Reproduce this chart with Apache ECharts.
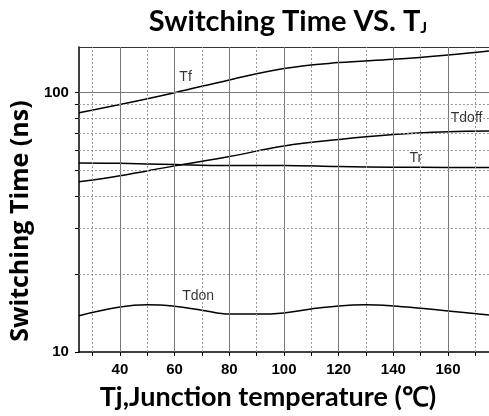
<!DOCTYPE html>
<html>
<head>
<meta charset="utf-8">
<script src="https://cdn.jsdelivr.net/npm/echarts@6/dist/echarts.min.js"></script>
<style>
  html, body { margin: 0; padding: 0; background: #fff; }
  #chart { width: 489px; height: 416px; }
</style>
</head>
<body>
<div id="chart"></div>
<script>
// Temperatures (degC)
const temps = [25, 40, 60, 80, 100, 120, 140, 160, 175];
const tempsDon = [25, 40, 50, 60, 70, 80, 90, 100, 110, 120, 130, 140, 150, 160, 175];

// Switching times (ns)
const tf = [83.6, 90, 100, 112, 124, 130.6, 134.5, 139.8, 144.9];
const tdoff = [45.3, 47.8, 52.2, 56.7, 62.3, 66, 69, 70.7, 71.1];
const tr = [53.6, 53.4, 52.8, 52.4, 52.4, 51.9, 51.6, 51.5, 51.5];
const tdon = [13.8, 14.9, 15.2, 15.0, 14.5, 14.0, 14.0, 14.15, 14.65, 15.05, 15.2, 15.05, 14.74, 14.4, 13.9];

// Curve names and where their labels sit (data coords)
const curveLabels = [
  ['Tf', 64, 115],
  ['Tdoff', 166.8, 79.5],
  ['Tr', 148.2, 55.9],
  ['Tdon', 68.6, 16.4]
];

// Axis ticks / grid
const xLabelTicks = [40, 60, 80, 100, 120, 140, 160];
const xMinorTicks = [30, 50, 70, 90, 110, 130, 150, 170];
const yLabelTicks = [10, 100];
const yMinor = [20, 30, 40, 50, 60, 70, 80, 90];

const zip = (xs, ys) => xs.map((x, i) => [x, ys[i]]);

const solidGrid = { color: '#777', width: 1, type: 'solid' };
const dashGrid = { color: '#999', width: 1, type: [2, 2] };

const gridLines = []
  .concat(xLabelTicks.map(v => ({ xAxis: v, lineStyle: solidGrid })))
  .concat(xMinorTicks.map(v => ({ xAxis: v, lineStyle: dashGrid })))
  .concat([{ yAxis: 100, lineStyle: solidGrid }])
  .concat(yMinor.map(v => ({ yAxis: v, lineStyle: dashGrid })));

function curve(name, xs, ys) {
  return {
    name: name,
    type: 'line',
    data: zip(xs, ys),
    smooth: 0.4,
    showSymbol: false,
    z: 3,
    lineStyle: { color: '#000', width: 1.5 },
    itemStyle: { color: '#000' }
  };
}

const labelFont = 'Liberation Sans, Arial, sans-serif';
const boldFont = 'Lato, Open Sans, sans-serif';

const option = {
  animation: false,
  backgroundColor: '#fff',
  title: {
    text: 'Switching Time VS. T{sub|J}',
    left: 283,
    top: 2,
    textAlign: 'center',
    textStyle: {
      fontFamily: boldFont,
      fontWeight: 'bold',
      fontSize: 29,
      color: '#000',
      rich: {
        sub: { fontFamily: boldFont, fontWeight: 'bold', fontSize: 16, color: '#000', verticalAlign: 'bottom' }
      }
    }
  },
  grid: { left: 73, top: 47, width: 420, height: 307 },
  xAxis: [{
    type: 'value',
    min: 25,
    max: 175,
    name: 'Tj,Junction temperature (\u2103)',
    nameLocation: 'middle',
    nameGap: 32,
    nameTextStyle: { fontFamily: boldFont, fontWeight: 'bold', fontSize: 27, color: '#000', padding: [0, 32, 0, 0] },
    axisLine: { lineStyle: { color: '#000', width: 1.5 } },
    axisTick: { show: true, customValues: xLabelTicks.concat(xMinorTicks), length: 4, lineStyle: { color: '#000' } },
    axisLabel: { customValues: xLabelTicks, fontFamily: labelFont, fontWeight: 'bold', fontSize: 15, color: '#000', margin: 10 },
    splitLine: { show: false }
  }, {
    type: 'value',
    position: 'top',
    min: 25,
    max: 175,
    axisLine: { show: true, lineStyle: { color: '#333', width: 1 } },
    axisTick: { show: false },
    axisLabel: { show: false },
    splitLine: { show: false }
  }],
  yAxis: {
    type: 'log',
    logBase: 10,
    min: 10,
    max: 150,
    name: 'Switching Time (ns)',
    nameLocation: 'middle',
    nameGap: 44,
    nameTextStyle: { fontFamily: 'Open Sans, sans-serif', fontWeight: 'bold', fontSize: 25, color: '#000', padding: [0, 43, 0, 0] },
    axisLine: { show: true, lineStyle: { color: '#000', width: 1.5 } },
    axisTick: { show: true, customValues: yLabelTicks.concat(yMinor), length: 4, lineStyle: { color: '#000' } },
    axisLabel: { customValues: yLabelTicks, fontFamily: labelFont, fontWeight: 'bold', fontSize: 15, color: '#000', margin: 10 },
    splitLine: { show: false }
  },
  series: [
    {
      name: 'grid',
      type: 'line',
      data: [],
      z: 1,
      silent: true,
      markLine: {
        silent: true,
        symbol: 'none',
        label: { show: false },
        animation: false,
        data: gridLines
      }
    },
    curve('Tf', temps, tf),
    curve('Tdoff', temps, tdoff),
    curve('Tr', temps, tr),
    curve('Tdon', tempsDon, tdon),
    {
      name: 'labels',
      type: 'scatter',
      symbolSize: 0,
      z: 4,
      data: curveLabels.map(l => ({ name: l[0], value: [l[1], l[2]] })),
      label: {
        show: true,
        position: 'inside',
        formatter: p => p.name,
        fontFamily: labelFont,
        fontSize: 14,
        color: '#000'
      }
    }
  ]
};

const chart = echarts.init(document.getElementById('chart'));
chart.setOption(option);
</script>
</body>
</html>
